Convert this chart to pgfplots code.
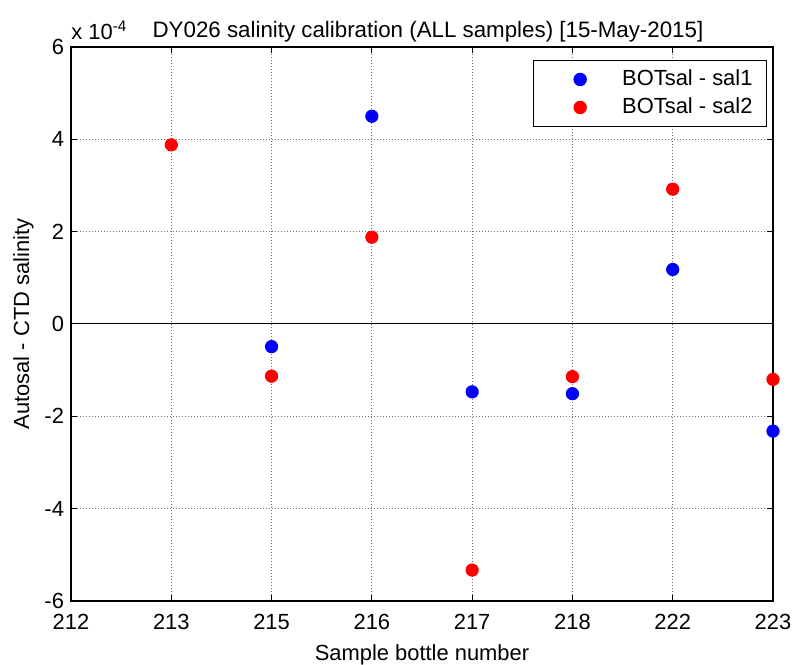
\documentclass[border=0pt]{standalone}
\usepackage{pgfplots}
\pgfplotsset{compat=1.18}
\usepackage{fontspec}
\setmainfont{Liberation Sans}
\begin{document}
\begin{tikzpicture}
\useasboundingbox (-35.5bp,-32bp) rectangle (361.5bp,300.5bp);
\begin{axis}[
  scale only axis, width=351bp, height=277bp,
  xmin=0, xmax=7, ymin=-6, ymax=6,
  xtick={0,1,2,3,4,5,6,7},
  xticklabels={212,213,215,216,217,218,222,223},
  ytick={-6,-4,-2,0,2,4,6},
  /pgf/number format/assume math mode=true,
  tick label style={font=\fontsize{11}{13}\selectfont},
  x tick label style={yshift=-3bp},
  label style={font=\fontsize{11}{13}\selectfont},
  tick align=inside, tick pos=both,
  major tick length=3bp,
  axis line style={line width=0.8bp},
  every tick/.style={black, line width=0.5bp},
  grid=major,
  major grid style={black!55, dash pattern=on 0.5bp off 1bp, line width=0.5bp},
  xlabel={Sample bottle number},
  ylabel={Autosal - CTD salinity},
  xlabel style={yshift=-0.5bp},
  ylabel style={yshift=-1.5bp},
  title={DY026 salinity calibration (ALL samples) [15-May-2015]},
  title style={font=\fontsize{11.2}{13}\selectfont, yshift=-7bp, xshift=3bp},
  legend style={at={(rel axis cs:1,1)}, xshift=-3bp, yshift=-6.5bp, anchor=north east,
    draw=black, line width=0.5bp, font=\fontsize{11}{13}\selectfont,
    inner xsep=7bp, inner ysep=2.5bp, row sep=0bp,
    nodes={text height=8.5bp, text depth=2.5bp, inner ysep=1.5bp, inner xsep=0bp},
    cells={anchor=west}},
  legend image code/.code={\path[draw=none,fill=none] (0bp,0bp) -- (37.5bp,0bp);
     \draw[#1, only marks] plot coordinates {(16.5bp,0bp)};},
  legend cell align=left,
  clip=false,
]
\addplot[black, line width=0.5bp, forget plot] coordinates {(0,0) (7,0)};
\addplot[only marks, mark=*, mark size=3.1bp, color=blue, fill=blue]
  coordinates {(2,-0.49) (3,4.50) (4,-1.47) (5,-1.51) (6,1.18) (7,-2.32)};
\addlegendentry{BOTsal - sal1}
\addplot[only marks, mark=*, mark size=3.1bp, color=red, fill=red]
  coordinates {(1,3.88) (2,-1.13) (3,1.88) (4,-5.33) (5,-1.14) (6,2.92) (7,-1.20)};
\addlegendentry{BOTsal - sal2}
\node[anchor=south west, inner sep=0pt, font=\fontsize{11}{13}\selectfont] at (rel axis cs:0,1.012) {x 10\textsuperscript{-4}};
\end{axis}
\end{tikzpicture}
\end{document}
